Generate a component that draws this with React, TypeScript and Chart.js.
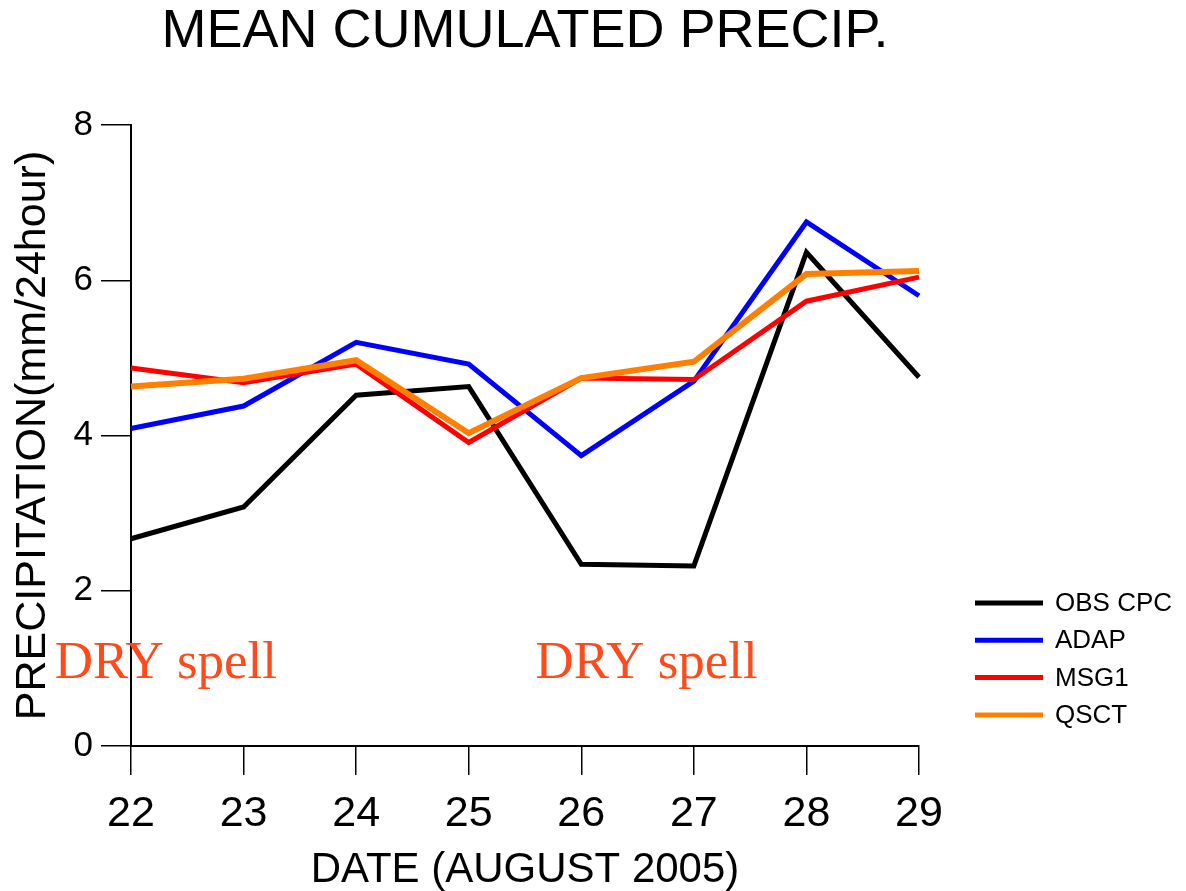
import React, { useEffect, useRef } from 'react';
import { Chart, registerables } from 'chart.js';

Chart.register(...registerables);

// ---- data ----
const DATES = ['22', '23', '24', '25', '26', '27', '28', '29'];
const OBS_CPC = [2.67, 3.08, 4.52, 4.63, 2.34, 2.32, 6.36, 4.75];
const ADAP = [4.09, 4.38, 5.2, 4.92, 3.74, 4.7, 6.75, 5.8];
const MSG1 = [4.87, 4.68, 4.92, 3.91, 4.74, 4.72, 5.73, 6.04];
const QSCT = [4.63, 4.73, 4.97, 4.03, 4.74, 4.95, 6.08, 6.12];
const SERIES_LABELS = ['OBS CPC', 'ADAP', 'MSG1', 'QSCT'];
const SERIES_COLORS = ['#000000', '#0000ff', '#ff0000', '#ff8000'];
const Y_MIN = 0;
const Y_MAX = 8;
const Y_STEP = 2;

const TITLE = 'MEAN CUMULATED PRECIP.';
const X_TITLE = 'DATE (AUGUST 2005)';
const Y_TITLE = 'PRECIPITATION(mm/24hour)';
const NOTE_TEXT = 'DRY spell';
const NOTE_X = [0.31, 4.58]; // positions along the date axis (category index)
const NOTE_Y = 0.88;
const NOTE_COLOR = '#ff4a1c';

const SANS = '"Liberation Sans", Arial, Helvetica, sans-serif';
const SERIF = '"Liberation Serif", "Times New Roman", serif';

const overlayPlugin = {
  id: 'overlay',
  afterDraw(chart: any) {
    const { ctx, chartArea, scales } = chart;
    ctx.save();
    // annotations
    ctx.font = `53px ${SERIF}`;
    ctx.fillStyle = NOTE_COLOR;
    ctx.textAlign = 'center';
    ctx.textBaseline = 'alphabetic';
    NOTE_X.forEach((v) => {
      ctx.fillText(NOTE_TEXT, scales.x.getPixelForValue(v), scales.y.getPixelForValue(NOTE_Y));
    });
    // legend
    const lx = chartArea.right + 56;
    const ly = chartArea.bottom - 143;
    const gap = 37.3;
    ctx.font = `26px ${SANS}`;
    ctx.textAlign = 'left';
    ctx.textBaseline = 'middle';
    SERIES_LABELS.forEach((label, i) => {
      const y = ly + i * gap;
      ctx.strokeStyle = SERIES_COLORS[i];
      ctx.lineWidth = 5;
      ctx.beginPath();
      ctx.moveTo(lx, y);
      ctx.lineTo(lx + 68, y);
      ctx.stroke();
      ctx.fillStyle = '#000';
      ctx.fillText(label, lx + 80, y + 1);
    });
    ctx.restore();
  },
};

export default function App() {
  const ref = useRef<HTMLCanvasElement>(null);

  useEffect(() => {
    document.body.style.margin = '0';
    const series = [OBS_CPC, ADAP, MSG1, QSCT];
    const chart = new Chart(ref.current!, {
      type: 'line',
      data: {
        labels: DATES,
        datasets: series.map((d, i) => ({
          label: SERIES_LABELS[i],
          data: d,
          borderColor: SERIES_COLORS[i],
          backgroundColor: SERIES_COLORS[i],
          borderWidth: i === 3 ? 6 : 5,
          pointRadius: 0,
          tension: 0,
          fill: false,
          order: 3 - i,
        })),
      },
      options: {
        animation: false,
        responsive: false,
        maintainAspectRatio: false,
        layout: { padding: { left: 0, right: 267, top: 0, bottom: 0 } },
        plugins: {
          legend: { display: false },
          tooltip: { enabled: false },
          title: {
            display: true,
            text: TITLE,
            fullSize: false,
            color: '#000',
            font: { family: SANS, size: 54, weight: 'normal', lineHeight: 1.0 },
            padding: { top: 5, bottom: 66 },
          },
        },
        scales: {
          x: {
            type: 'category',
            offset: false,
            afterFit: (scale: any) => {
              scale.height = 145;
            },
            grid: {
              display: true,
              drawOnChartArea: false,
              drawTicks: true,
              tickLength: 29,
              color: '#000',
              lineWidth: 1.5,
            },
            border: { display: true, color: '#000', width: 2 },
            ticks: {
              color: '#000',
              padding: 18,
              maxRotation: 0,
              autoSkip: false,
              font: { family: SANS, size: 43, lineHeight: 1.0 },
            },
            title: {
              display: true,
              text: X_TITLE,
              color: '#000',
              font: { family: SANS, size: 42, lineHeight: 1.0 },
              padding: { top: 14, bottom: 0 },
            },
          },
          y: {
            min: Y_MIN,
            max: Y_MAX,
            afterFit: (scale: any) => {
              scale.width = 131;
            },
            grid: {
              display: true,
              drawOnChartArea: false,
              drawTicks: true,
              tickLength: 30,
              color: '#000',
              lineWidth: 1.5,
            },
            border: { display: true, color: '#000', width: 2 },
            ticks: {
              stepSize: Y_STEP,
              color: '#000',
              padding: 8,
              font: { family: SANS, size: 35, lineHeight: 1.0 },
            },
            title: {
              display: true,
              text: Y_TITLE,
              color: '#000',
              font: { family: SANS, size: 43, lineHeight: 1.0 },
              padding: { top: 12, bottom: 20 },
            },
          },
        },
      },
      plugins: [overlayPlugin],
    });
    return () => chart.destroy();
  }, []);

  return (
    <div style={{ width: 1186, height: 891, background: '#fff' }}>
      <canvas ref={ref} width={1186} height={891} style={{ display: 'block' }} />
    </div>
  );
}
